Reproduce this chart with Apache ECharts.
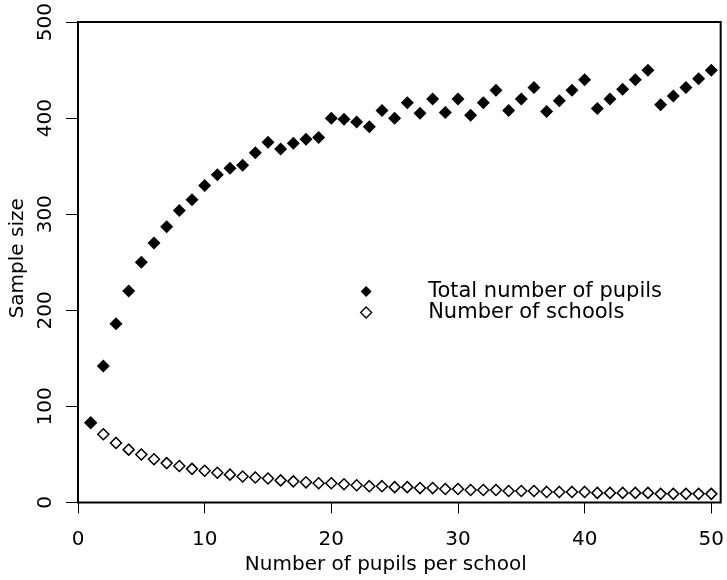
<!DOCTYPE html>
<html>
<head>
<meta charset="utf-8">
<script src="https://cdn.jsdelivr.net/npm/echarts@6/dist/echarts.min.js"></script>
<style>
html,body{margin:0;padding:0;background:#fff;}
#chart{width:727px;height:580px;}
</style>
</head>
<body>
<div id="chart"></div>
<script>
// pupils per school (x)
var pupilsPerSchool = [1,2,3,4,5,6,7,8,9,10,11,12,13,14,15,16,17,18,19,20,21,22,23,24,25,
  26,27,28,29,30,31,32,33,34,35,36,37,38,39,40,41,42,43,44,45,46,47,48,49,50];
// Total number of pupils
var totalPupils = [83,142,186,220,250,270,287,304,315,330,341,348,351,364,375,368,374,378,380,400,
  399,396,391,408,400,416,405,420,406,420,403,416,429,408,420,432,407,418,429,440,
  410,420,430,440,450,414,423,432,441,450];
// Number of schools
var numSchools = [83,71,62,55,50,45,41,38,35,33,31,29,27,26,25,23,22,21,20,20,
  19,18,17,17,16,16,15,15,14,14,13,13,13,12,12,12,11,11,11,11,
  10,10,10,10,10,9,9,9,9,9];
var xTicks = [0,10,20,30,40,50];
var yTicks = [0,100,200,300,400,500];
var seriesNames = ['Total number of pupils','Number of schools'];

var FONT = '"DejaVu Sans", sans-serif';
var diamondPath = 'path://M0,-1L1,0L0,1L-1,0Z';

function pairs(xs, ys){ return xs.map(function(x,i){ return [x, ys[i]]; }); }

var chart = echarts.init(document.getElementById('chart'), null, {renderer:'canvas'});
chart.setOption({
  animation:false,
  backgroundColor:'#fff',
  textStyle:{fontFamily:FONT, color:'#000'},
  grid:{left:77, right:4.5, top:19, bottom:77.5, show:true, borderColor:'#000', borderWidth:2, backgroundColor:'transparent', containLabel:false},
  legend:{
    orient:'vertical', left:360, top:281, padding:0,
    itemWidth:114, itemHeight:11, itemGap:0,
    symbolKeepAspect:true,
    textStyle:{fontFamily:FONT, fontSize:21, color:'#000', lineHeight:21},
    data:[
      {name:seriesNames[0], icon:diamondPath, itemStyle:{color:'#000', borderWidth:0}},
      {name:seriesNames[1], icon:diamondPath, itemStyle:{color:'#fff', borderColor:'#000', borderWidth:1.3}}
    ]
  },
  xAxis:{
    type:'value', min:0, max:50.74,
    name:'Number of pupils per school', nameLocation:'middle', nameGap:46,
    nameTextStyle:{fontFamily:FONT, fontSize:20, color:'#000', padding:[0,27,0,0]},
    splitLine:{show:false},
    axisLine:{show:false},
    axisTick:{show:true, inside:false, length:11, lineStyle:{color:'#000', width:1}, customValues:xTicks},
    axisLabel:{fontFamily:FONT, fontSize:20, color:'#000', margin:27, customValues:xTicks}
  },
  yAxis:{
    type:'value', min:0, max:500, interval:100,
    name:'Sample size', nameLocation:'middle', nameGap:50,
    nameTextStyle:{fontFamily:FONT, fontSize:20, color:'#000', padding:[0,0,0,8]},
    splitLine:{show:false},
    axisLine:{show:false},
    axisTick:{show:true, inside:false, length:12, lineStyle:{color:'#000', width:1}, customValues:yTicks},
    axisLabel:{fontFamily:FONT, fontSize:20, color:'#000', margin:22, rotate:90, customValues:yTicks}
  },
  series:[
    {
      name:seriesNames[1], type:'scatter', data:pairs(pupilsPerSchool, numSchools),
      symbol:'diamond', symbolSize:11,
      itemStyle:{color:'#fff', borderColor:'#000', borderWidth:1.5, opacity:1},
      z:2
    },
    {
      name:seriesNames[0], type:'scatter', data:pairs(pupilsPerSchool, totalPupils),
      symbol:'diamond', symbolSize:13,
      itemStyle:{color:'#000', opacity:1},
      z:3
    }
  ]
});
</script>
</body>
</html>
